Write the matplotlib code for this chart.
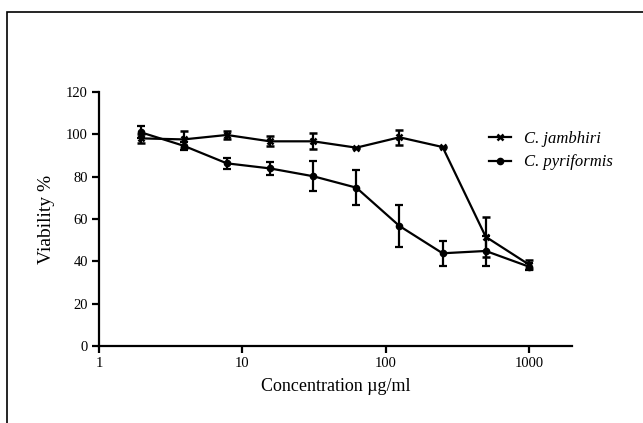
import numpy as np
import matplotlib.pyplot as plt
from matplotlib.patches import Rectangle

# concentrations (ug/ml)
conc = [1.95, 3.9, 7.8, 15.6, 31.25, 62.5, 125, 250, 500, 1000]

# C. jambhiri
jamb = [98.1, 97.6, 99.7, 96.7, 96.7, 93.7, 98.6, 94.0, 51.6, 38.5]
jamb_err = [2.0, 4.0, 1.8, 2.3, 3.8, 0.0, 3.6, 0.0, 9.5, 2.0]

# C. pyriformis
pyri = [101.0, 94.6, 86.3, 83.9, 80.2, 74.8, 56.7, 43.8, 44.9, 37.5]
pyri_err = [2.8, 1.8, 2.6, 3.1, 7.0, 8.3, 9.8, 5.8, 7.0, 1.8]

y_ticks = [0, 20, 40, 60, 80, 100, 120]
x_ticks = [1, 10, 100, 1000]

plt.rcParams['font.family'] = ['Liberation Serif', 'DejaVu Serif']

fig = plt.figure(figsize=(6.43, 4.23), dpi=100)
ax = fig.add_axes([99 / 643, 1 - 346 / 423, (572 - 99) / 643, (346 - 92) / 423])

# cadre autour de la figure (gauche et haut seulement visibles)
fig.patches.append(Rectangle((7 / 643, -0.1), 1.2, 1 - 12 / 423 + 0.1,
                             transform=fig.transFigure, fill=False,
                             edgecolor='black', linewidth=1.2))

ax.errorbar(conc, jamb, yerr=jamb_err, color='black', lw=1.6, marker='x',
            markersize=4, markeredgewidth=1.8, capsize=3, capthick=1.6,
            elinewidth=1.6, label='C. jambhiri')
ax.errorbar(conc, pyri, yerr=pyri_err, color='black', lw=1.6, marker='o',
            markersize=4.5, capsize=3, capthick=1.6, elinewidth=1.6,
            label='C. pyriformis')

ax.set_xscale('log')
ax.set_xlim(1, 2000)
ax.set_ylim(0, 120)
ax.set_xticks(x_ticks)
ax.set_xticklabels([str(t) for t in x_ticks])
ax.xaxis.set_minor_locator(plt.NullLocator())
ax.set_yticks(y_ticks)

for s in ['top', 'right']:
    ax.spines[s].set_visible(False)
for s in ['left', 'bottom']:
    ax.spines[s].set_linewidth(1.6)
ax.tick_params(width=1.6, length=5, labelsize=10.5, pad=3)

ax.set_xlabel('Concentration µg/ml', fontsize=13, labelpad=6)
ax.set_ylabel('Viability %', fontsize=14, labelpad=8)

handles, labels = ax.get_legend_handles_labels()
handles = [h[0] for h in handles]
ax.legend(handles, labels, loc='upper left', bbox_to_anchor=(474 / 643, 1 - 116 / 423),
          bbox_transform=fig.transFigure, frameon=False, handlelength=1.3,
          handletextpad=0.8, labelspacing=0.45, prop={'style': 'italic', 'size': 12})

fig.savefig('out.png', dpi=100)
